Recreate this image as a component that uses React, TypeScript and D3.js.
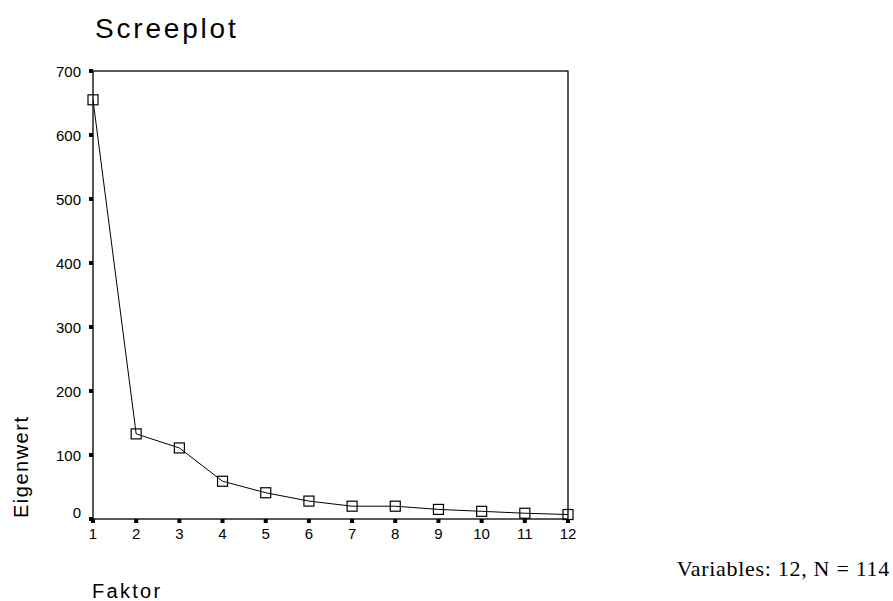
import React, { useEffect, useRef } from 'react';
import * as d3 from 'd3';

const factors = [1, 2, 3, 4, 5, 6, 7, 8, 9, 10, 11, 12];
const eigenvalues = [655, 133, 111, 59, 41, 28, 20, 20, 15, 12, 9, 7];
const yTicks = [0, 100, 200, 300, 400, 500, 600, 700];

export default function App() {
  const ref = useRef<SVGSVGElement | null>(null);

  useEffect(() => {
    const svg = d3.select(ref.current);
    svg.selectAll('*').remove();

    const left = 93, right = 568, top = 71, bottom = 519;
    const x = d3.scaleLinear().domain([1, 12]).range([left, right]);
    const y = d3.scaleLinear().domain([0, 700]).range([bottom, top]);
    const font = 'Arial, "Liberation Sans", sans-serif';

    svg.append('text')
      .attr('x', 95).attr('y', 38)
      .attr('font-family', font).attr('font-size', 28)
      .attr('letter-spacing', 2.8)
      .text('Screeplot');

    // frame
    svg.append('rect')
      .attr('x', left).attr('y', top)
      .attr('width', right - left).attr('height', bottom - top)
      .attr('fill', 'none').attr('stroke', '#000').attr('stroke-width', 1.3);

    // y ticks
    const yg = svg.append('g');
    yTicks.forEach(t => {
      yg.append('rect')
        .attr('x', left - 4).attr('y', y(t) - 2)
        .attr('width', 4).attr('height', 4).attr('fill', '#000');
      yg.append('text')
        .attr('x', left - 12).attr('y', y(t) + 6 - (t === 0 ? 7 : 0))
        .attr('text-anchor', 'end')
        .attr('font-family', font).attr('font-size', 15)
        .text(t);
    });

    // x ticks
    const xg = svg.append('g');
    factors.forEach(f => {
      xg.append('rect')
        .attr('x', x(f) - 2).attr('y', bottom)
        .attr('width', 4).attr('height', 4).attr('fill', '#000');
      xg.append('text')
        .attr('x', x(f)).attr('y', bottom + 20)
        .attr('text-anchor', 'middle')
        .attr('font-family', font).attr('font-size', 15)
        .text(f);
    });

    const pts = factors.map((f, i) => [f, eigenvalues[i]] as [number, number]);
    const line = d3.line<[number, number]>().x(d => x(d[0])).y(d => y(d[1]));
    svg.append('path')
      .datum(pts)
      .attr('d', line)
      .attr('fill', 'none').attr('stroke', '#000').attr('stroke-width', 1);

    svg.append('g').selectAll('rect').data(pts).join('rect')
      .attr('x', d => x(d[0]) - 5).attr('y', d => y(d[1]) - 5)
      .attr('width', 10).attr('height', 10)
      .attr('fill', 'none').attr('stroke', '#000').attr('stroke-width', 1.2);

    // axis titles
    svg.append('text')
      .attr('transform', 'translate(28,518) rotate(-90)')
      .attr('font-family', font).attr('font-size', 20)
      .attr('letter-spacing', 1.5)
      .text('Eigenwert');

    svg.append('text')
      .attr('x', 92).attr('y', 598)
      .attr('font-family', font).attr('font-size', 20)
      .attr('letter-spacing', 2.3)
      .text('Faktor');

    svg.append('text')
      .attr('x', 890).attr('y', 576)
      .attr('text-anchor', 'end')
      .attr('font-family', '"Times New Roman", "Liberation Serif", serif')
      .attr('font-size', 22)
      .attr('letter-spacing', 0.7)
      .text('Variables: 12, N = 114');
  }, []);

  return (
    <svg ref={ref} width={893} height={601}
      style={{ position: 'absolute', left: 0, top: 0, background: '#fff' }} />
  );
}
